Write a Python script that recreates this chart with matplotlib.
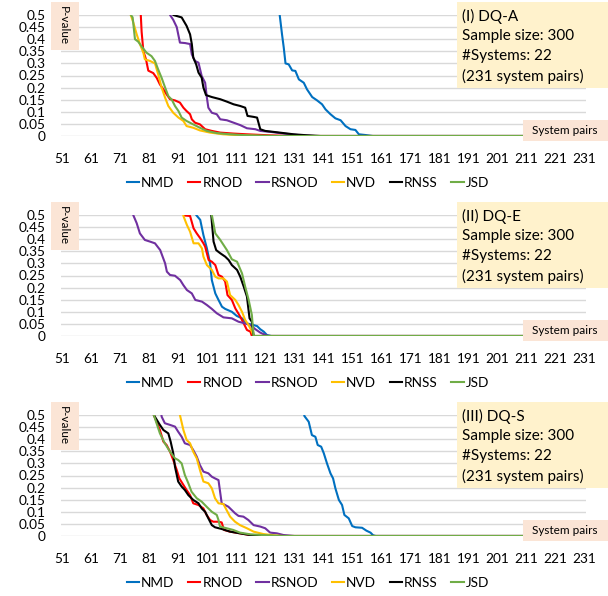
import matplotlib
matplotlib.use("Agg")
import matplotlib.pyplot as plt
from matplotlib.patches import Rectangle

plt.rcParams['font.family'] = ['Lato', 'DejaVu Sans']

names = ["NMD", "RNOD", "RSNOD", "NVD", "RNSS", "JSD"]
colors = ["#0070C0", "#FF0000", "#7030A0", "#FFC000", "#000000", "#70AD47"]
xticks = list(range(51, 232, 10))
yticks = [0, 0.05, 0.1, 0.15, 0.2, 0.25, 0.3, 0.35, 0.4, 0.45, 0.5]
ytick_labels = ["0", "0.05", "0.1", "0.15", "0.2", "0.25", "0.3", "0.35", "0.4", "0.45", "0.5"]
titles = ["(I) DQ-A", "(II) DQ-E", "(III) DQ-S"]
info = ["Sample size: 300", "#Systems: 22", "(231 system pairs)"]

# (I) DQ-A  -- sorted p-values
a_nmd_x = [125.5, 125.9, 126.7, 127.3, 127.9, 129.0, 130.2, 131.3, 132.5, 134.2, 135.3, 137.1, 138.8,
           140.5, 141.7, 143.4, 145.1, 146.9, 148.6, 150.3, 152.0, 153.2, 155.5, 158, 231]
a_nmd_y = [0.55, 0.5, 0.42, 0.365, 0.30, 0.296, 0.271, 0.269, 0.234, 0.22, 0.193, 0.161, 0.147,
           0.131, 0.11, 0.09, 0.073, 0.065, 0.041, 0.028, 0.025, 0.007, 0.004, 0, 0]
a_rnod_x = [77.8, 78.3, 78.9, 79.8, 80.6, 82.3, 83.5, 84.6, 85.8, 86.9, 88.1, 89.8, 91.5, 92.7, 93.8,
            95.0, 95.6, 96.7, 98.4, 100.2, 102.5, 105.4, 110.0, 114.6, 122, 130, 231]
a_rnod_y = [0.55, 0.43, 0.35, 0.317, 0.27, 0.26, 0.24, 0.213, 0.193, 0.172, 0.152, 0.147, 0.138, 0.117,
            0.103, 0.09, 0.069, 0.055, 0.048, 0.028, 0.021, 0.014, 0.01, 0.007, 0.003, 0, 0]
a_rsnod_x = [87.8, 88.1, 89.2, 90.4, 91.5, 93.3, 95.0, 95.6, 96.7, 97.9, 99.0, 100.2, 100.8, 101.3,
             102.5, 104.2, 105.4, 107.7, 110.0, 112.3, 114.6, 117.5, 119.2, 122.7, 127.3, 133, 138, 231]
a_rsnod_y = [0.52, 0.5, 0.48, 0.45, 0.386, 0.384, 0.38, 0.337, 0.31, 0.303, 0.248, 0.22, 0.158, 0.117,
             0.096, 0.09, 0.069, 0.065, 0.055, 0.045, 0.032, 0.028, 0.021, 0.017, 0.01, 0.003, 0, 0]
a_nvd_x = [74.0, 75.4, 76.6, 77.7, 78.9, 79.4, 81.2, 82.9, 84.0, 85.2, 86.4, 87.5, 89.2, 91.0, 92.7,
           93.8, 96.1, 98.4, 101.9, 106.5, 112.3, 120, 231]
a_nvd_y = [0.52, 0.47, 0.42, 0.38, 0.344, 0.317, 0.31, 0.30, 0.255, 0.20, 0.158, 0.124, 0.096, 0.076,
           0.062, 0.041, 0.034, 0.023, 0.014, 0.007, 0.003, 0, 0]
a_rnss_x = [88.5, 89.2, 92.1, 93.8, 95.0, 95.6, 96.1, 97.1, 97.9, 99.0, 99.6, 100.5, 102.5, 105.4,
            107.7, 110.0, 112.3, 114.0, 114.8, 116.9, 118.1, 119.2, 120.9, 123.8, 127.3, 130.7, 135.3,
            140, 231]
a_rnss_y = [0.52, 0.5, 0.49, 0.455, 0.42, 0.38, 0.324, 0.296, 0.262, 0.241, 0.20, 0.169, 0.161, 0.152,
            0.142, 0.131, 0.124, 0.117, 0.083, 0.079, 0.076, 0.028, 0.021, 0.017, 0.012, 0.007, 0.003,
            0, 0]
a_jsd_x = [73.4, 75.2, 76.0, 77.1, 78.3, 80.0, 81.7, 82.9, 84.0, 85.2, 86.4, 87.5, 88.7, 89.8, 91.0,
           92.1, 93.8, 96.1, 98.4, 100.8, 104.2, 108.8, 114.6, 125, 231]
a_jsd_y = [0.52, 0.49, 0.40, 0.39, 0.37, 0.344, 0.33, 0.31, 0.275, 0.24, 0.20, 0.165, 0.15, 0.124,
           0.103, 0.076, 0.062, 0.048, 0.034, 0.021, 0.012, 0.007, 0.003, 0, 0]

# (II) DQ-E
e_nmd_x = [96.9, 97.1, 98.5, 99.6, 100.8, 101.9, 102.5, 103.7, 104.8, 106.0, 107.1, 109.4, 111.1,
           112.9, 114.6, 116.9, 118.1, 119.2, 120.4, 121.5, 123, 231]
e_nmd_y = [0.52, 0.5, 0.48, 0.417, 0.362, 0.30, 0.231, 0.176, 0.149, 0.121, 0.112, 0.10, 0.083,
           0.073, 0.052, 0.045, 0.041, 0.028, 0.018, 0.004, 0, 0]
e_rnod_x = [93.0, 93.1, 95.0, 96.2, 97.3, 98.5, 99.6, 100.2, 101.4, 102.5, 103.7, 104.8, 106.0, 107.1,
            107.9, 109.4, 110.6, 112.3, 113.5, 114.6, 115.8, 116.3, 231]
e_rnod_y = [0.52, 0.498, 0.496, 0.445, 0.424, 0.404, 0.383, 0.369, 0.314, 0.307, 0.293, 0.252, 0.245,
            0.225, 0.169, 0.149, 0.114, 0.08, 0.052, 0.025, 0.018, 0, 0]
e_rsnod_x = [75.2, 75.4, 76.6, 77.7, 79.4, 81.2, 82.9, 84.7, 86.4, 87.0, 88.1, 89.8, 91.6, 92.7, 93.9,
             95.6, 96.8, 99.1, 100.8, 102.5, 104.2, 106.5, 109.4, 111.7, 114.0, 115.8, 117.5, 119.2,
             121.0, 122, 231]
e_rsnod_y = [0.52, 0.5, 0.466, 0.424, 0.397, 0.39, 0.383, 0.355, 0.30, 0.266, 0.252, 0.249, 0.231,
             0.21, 0.19, 0.176, 0.149, 0.142, 0.128, 0.112, 0.094, 0.077, 0.073, 0.059, 0.052, 0.045,
             0.028, 0.014, 0.004, 0, 0]
e_nvd_x = [92.5, 92.7, 93.9, 95.0, 96.2, 97.9, 99.1, 99.6, 100.8, 102.5, 103.7, 104.8, 106.5, 107.7,
           108.8, 110.6, 111.7, 112.9, 114.0, 115.2, 116.3, 116.9, 231]
e_nvd_y = [0.52, 0.496, 0.459, 0.431, 0.383, 0.383, 0.362, 0.328, 0.293, 0.273, 0.245, 0.238, 0.238,
           0.225, 0.169, 0.149, 0.128, 0.10, 0.066, 0.045, 0.018, 0, 0]
e_rnss_x = [102.2, 102.3, 103.1, 104.0, 105.4, 107.1, 108.3, 109.4, 111.2, 112.3, 113.5, 114.6, 115.5,
            116.3, 116.9, 231]
e_rnss_y = [0.55, 0.5, 0.39, 0.355, 0.342, 0.328, 0.314, 0.293, 0.273, 0.245, 0.204, 0.163, 0.073,
            0.059, 0, 0]
e_jsd_x = [102.4, 102.5, 103.7, 105.4, 107.7, 109.4, 111.2, 112.9, 114.0, 115.2, 116.3, 116.9, 231]
e_jsd_y = [0.55, 0.5, 0.424, 0.397, 0.355, 0.317, 0.307, 0.259, 0.204, 0.149, 0.087, 0, 0]

# (III) DQ-S
s_nmd_x = [134.2, 134.4, 135.9, 137.0, 138.2, 139.0, 140.2, 141.1, 142.2, 143.4, 144.3, 145.1, 146.3,
           147.4, 148.2, 149.7, 150.9, 152.0, 154.3, 155.8, 157.2, 158.1, 159, 231]
s_nmd_y = [0.52, 0.496, 0.472, 0.417, 0.41, 0.376, 0.369, 0.342, 0.30, 0.259, 0.238, 0.197, 0.149,
           0.128, 0.087, 0.073, 0.041, 0.036, 0.034, 0.022, 0.014, 0.003, 0, 0]
s_rnod_x = [82.3, 82.5, 84.6, 85.8, 86.9, 88.1, 89.2, 90.4, 91.3, 92.7, 93.8, 95.0, 96.1, 97.9, 99.6,
            100.7, 101.9, 103.0, 104.8, 105.9, 106.7, 108.8, 112.2, 115.7, 120, 231]
s_rnod_y = [0.52, 0.5, 0.438, 0.39, 0.376, 0.348, 0.314, 0.273, 0.238, 0.211, 0.19, 0.169, 0.135,
            0.128, 0.114, 0.087, 0.066, 0.059, 0.059, 0.056, 0.025, 0.018, 0.011, 0.004, 0, 0]
s_rsnod_x = [84.9, 85.2, 86.3, 88.1, 89.8, 90.9, 92.1, 93.2, 95.0, 96.1, 97.3, 98.4, 99.6, 101.3, 102.5,
             103.6, 104.8, 105.9, 107.1, 108.2, 109.4, 110.5, 111.7, 113.4, 115.1, 116.9, 119.2, 120.9,
             122.6, 124.9, 127.2, 131, 231]
s_rsnod_y = [0.52, 0.493, 0.466, 0.459, 0.452, 0.431, 0.41, 0.383, 0.376, 0.355, 0.328, 0.293, 0.266,
             0.259, 0.245, 0.238, 0.231, 0.135, 0.128, 0.121, 0.107, 0.094, 0.083, 0.08, 0.066, 0.045,
             0.039, 0.032, 0.014, 0.011, 0.004, 0, 0]
s_nvd_x = [91.3, 91.5, 92.7, 93.8, 95.0, 96.1, 97.3, 98.4, 99.6, 101.3, 102.5, 103.6, 104.8, 106.5,
           107.6, 108.8, 110.5, 112.2, 114.6, 116.9, 120.3, 123.8, 127, 231]
s_nvd_y = [0.55, 0.5, 0.438, 0.397, 0.383, 0.348, 0.321, 0.273, 0.225, 0.218, 0.197, 0.156, 0.135,
           0.132, 0.107, 0.08, 0.059, 0.045, 0.032, 0.018, 0.008, 0.003, 0, 0]
s_rnss_x = [82.3, 82.5, 84.6, 85.8, 87.5, 88.3, 89.2, 89.8, 90.9, 92.1, 93.2, 94.4, 96.1, 97.9, 99.0,
            100.2, 101.3, 102.5, 103.6, 105.9, 108.8, 112.2, 115.7, 120, 231]
s_rnss_y = [0.52, 0.5, 0.459, 0.438, 0.424, 0.39, 0.342, 0.286, 0.225, 0.204, 0.19, 0.169, 0.149,
            0.135, 0.114, 0.10, 0.073, 0.045, 0.036, 0.029, 0.018, 0.011, 0.004, 0, 0]
s_jsd_x = [82.3, 82.5, 84.6, 86.3, 88.1, 89.8, 90.9, 92.1, 93.2, 94.4, 95.5, 97.3, 99.0, 100.7, 102.5,
           104.2, 104.8, 105.3, 107.6, 109.9, 112.2, 115.7, 121.5, 126, 231]
s_jsd_y = [0.52, 0.5, 0.424, 0.383, 0.348, 0.321, 0.314, 0.30, 0.252, 0.218, 0.183, 0.156, 0.142,
           0.121, 0.10, 0.087, 0.066, 0.039, 0.032, 0.025, 0.014, 0.007, 0.003, 0, 0]

panels = [
    [(a_nmd_x, a_nmd_y), (a_rnod_x, a_rnod_y), (a_rsnod_x, a_rsnod_y),
     (a_nvd_x, a_nvd_y), (a_rnss_x, a_rnss_y), (a_jsd_x, a_jsd_y)],
    [(e_nmd_x, e_nmd_y), (e_rnod_x, e_rnod_y), (e_rsnod_x, e_rsnod_y),
     (e_nvd_x, e_nvd_y), (e_rnss_x, e_rnss_y), (e_jsd_x, e_jsd_y)],
    [(s_nmd_x, s_nmd_y), (s_rnod_x, s_rnod_y), (s_rsnod_x, s_rsnod_y),
     (s_nvd_x, s_nvd_y), (s_rnss_x, s_rnss_y), (s_jsd_x, s_jsd_y)],
]

W, H = 608, 596
fig = plt.figure(figsize=(W / 100, H / 100), dpi=100)


def fx(px):
    return px / W


def fy(py):
    return 1 - py / H


def box(x0, y0, x1, y1, color):
    fig.patches.append(Rectangle((fx(x0), fy(y1)), fx(x1) - fx(x0), fy(y0) - fy(y1),
                                 transform=fig.transFigure, facecolor=color,
                                 edgecolor="none", zorder=5))


for i, series in enumerate(panels):
    off = 200 * i
    ax = fig.add_axes([fx(61), fy(off + 136), fx(586) - fx(61), fy(off + 15) - fy(off + 136)])
    for (xs, ys), name, c in zip(series, names, colors):
        ax.plot(xs, ys, color=c, lw=1.5, label=name, solid_joinstyle="round")
    ax.set_xlim(50.5, 231.5)
    ax.set_ylim(0, 0.5)
    ax.set_yticks(yticks)
    ax.set_yticklabels(ytick_labels)
    ax.set_xticks(xticks)
    ax.grid(axis="y", color="#D9D9D9", lw=1)
    ax.set_axisbelow(True)
    for s in ax.spines.values():
        s.set_visible(False)
    ax.tick_params(axis="y", length=0, pad=11, labelsize=9.8, colors="#000000")
    ax.tick_params(axis="x", length=0, pad=12, labelsize=9.8, colors="#000000")

    leg = ax.legend(loc="center", bbox_to_anchor=(fx(308), fy(off + 183)),
                    bbox_transform=fig.transFigure, ncol=6, frameon=False,
                    handlelength=0.9, handletextpad=0.15, columnspacing=1.0,
                    fontsize=9.8, borderpad=0)

    # panel description box
    box(457, off + 2, 608, off + 88, "#FFF2CC")
    fig.text(fx(462), fy(off + 16), titles[i], ha="left", va="center", fontsize=11, zorder=6)
    for k, line in enumerate(info):
        fig.text(fx(462), fy(off + 36 + 20 * k), line, ha="left", va="center", fontsize=11, zorder=6)

    # axis titles
    box(51, off + 2, 79, off + 50, "#FBE5D6")
    fig.text(fx(63), fy(off + 26), "P-value", rotation=270, ha="center", va="center",
             fontsize=8.5, zorder=6)
    box(523, off + 120, 608, off + 141, "#FBE5D6")
    fig.text(fx(565), fy(off + 130), "System pairs", ha="center", va="center",
             fontsize=8.5, zorder=6)

fig.savefig("out.png", dpi=100)
